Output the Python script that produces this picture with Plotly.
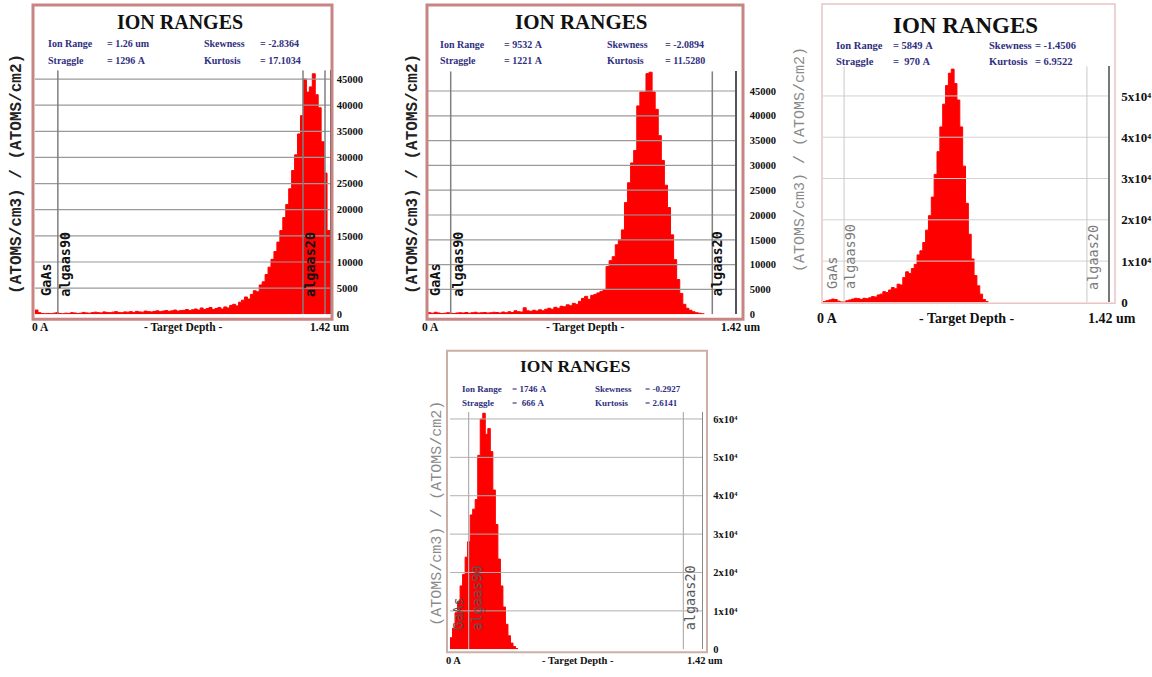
import plotly.graph_objects as go

W, H = 1152, 677
DEPTH_MAX = 14200          # target depth, Angstrom (1.42 um)
BIN = 142                  # width of one depth bin (100 bins)

# Ion distribution per depth bin, (atoms/cm3)/(atoms/cm2), starting at the surface
ions_a = [
    800, 300, 150, 100, 150, 100, 200, 300, 150, 100,
    200, 150, 300, 250, 150, 200, 350, 250, 200, 300,
    400, 300, 250, 450, 350, 300, 400, 500, 350, 300,
    450, 400, 500, 350, 550, 450, 400, 600, 500, 450,
    550, 650, 500, 600, 700, 550, 650, 800, 600, 700,
    750, 900, 700, 850, 1000, 800, 1200, 900, 1100, 1300,
    900, 1100, 1300, 1000, 1400, 1200, 1700, 1900, 1600, 2300,
    2700, 3300, 2900, 3800, 4500, 4300, 5600, 6200, 7600, 9000,
    10500, 12000, 13800, 16000, 18500, 21000, 24000, 27500, 30500, 34500,
    38000, 45000, 42500, 43500, 46000, 42000, 39500, 33000, 27000, 16000,
]
ions_b = [
    300, 200, 400, 250, 150, 200, 300, 200, 150, 250,
    300, 250, 350, 200, 300, 400, 250, 300, 350, 250,
    300, 400, 350, 250, 450, 300, 500, 350, 700, 500,
    450, 1300, 700, 600, 800, 650, 900, 700, 1000, 1200,
    1000, 1400, 1200, 1600, 1500, 1900, 1700, 2200, 2000, 2600,
    3200, 3600, 3000, 3800, 4000, 4300, 4600, 5000, 9600, 10800,
    11600, 14000, 15000, 17000, 22500, 26500, 30500, 33000, 42000, 44800,
    44800, 48500, 48800, 44800, 41300, 36000, 31000, 26000, 21500, 16000,
    11000, 7000, 4200, 2000, 1200, 800, 500, 300, 200, 100,
]
ions_c = [
    200, 400, 600, 800, 700, 300, 100, 100, 400, 600,
    800, 1000, 900, 700, 1000, 900, 1100, 1400, 1300, 1800,
    2000, 2600, 2400, 3000, 3600, 3300, 4400, 4200, 6000, 7400,
    7000, 8200, 9200, 11500, 12500, 14500, 17500, 21000, 25500, 31000,
    36500, 42500, 48000, 52500, 55500, 56500, 53000, 49000, 42500, 33000,
    24000, 16500, 10500, 6500, 4000, 2000, 700, 200,
]
ions_d = [
    3000, 5500, 9500, 12500, 16500, 19500, 24000, 28000, 35000, 36500,
    39000, 50500, 60000, 61500, 56000, 57500, 51500, 41500, 32500, 23500,
    16500, 11000, 6500, 3500, 1600, 700, 200,
]

# Header statistics (Ion Range, Straggle, Skewness, Kurtosis)
stats_a = ["= 1.26 um", "= 1296 A", "= -2.8364", "= 17.1034"]
stats_b = ["= 9532 A", "= 1221 A", "= -2.0894", "= 11.5280"]
stats_c = ["= 5849 A", "=  970 A", "= -1.4506", "= 6.9522"]
stats_d = ["= 1746 A", "=  666 A", "= -0.2927", "= 2.6141"]
stat_names = ["Ion Range", "Straggle", "Skewness", "Kurtosis"]

# Target layers and where each one begins (Angstrom)
layer_names = ["GaAs", "algaas90", "algaas20"]
layer_starts_a = [0, 1100, 12900]
layer_starts_bcd = [0, 1050, 13150]
extra_bounds_a = [13960]

ticks_lin = [0, 5000, 10000, 15000, 20000, 25000, 30000, 35000, 40000, 45000]
ticks_lin_text = ["0", "5000", "10000", "15000", "20000", "25000", "30000",
                  "35000", "40000", "45000"]
ticks_exp = [0, 10000, 20000, 30000, 40000, 50000, 60000]
ticks_exp_text = ["0", "1x10\u2074", "2x10\u2074", "3x10\u2074", "4x10\u2074",
                  "5x10\u2074", "6x10\u2074"]

x_labels = ["0 A", "- Target Depth -", "1.42 um"]
y_title = "(ATOMS/cm3) / (ATOMS/cm2)"
title_text = "ION RANGES"


def fx(p):
    return p / W


def fy(p):
    return 1 - p / H


panels = [
    dict(ions=ions_a, stats=stats_a, starts=layer_starts_a, extra=extra_bounds_a,
         box=(35, 71, 330, 318), ymax=46700, ticks=ticks_lin, ticktext=ticks_lin_text,
         frame=(33, 5, 332, 323), frame_col="#c98484", frame_w=3,
         title=(180, 22, 20), stat_rows=(44, 61), stat_cols=(46, 105, 202, 258), stat_size=10,
         ytitle=(17, 176, 16, "#222222", True),
         xlab_y=331, xlab_x=(40, 183, 329), xlab_size=11.5,
         tick_size=10.5, standoff=3,
         lay_bottom=302, lay_shift=(11, 7, 7), lay_col="#111111", lay_bold=True,
         vcol="#808080", vw=1.5, gcol="#9a9a9a", gw=1.2, acol="#555555", aw=1.5),
    dict(ions=ions_b, stats=stats_b, starts=layer_starts_bcd, extra=[],
         box=(428, 72, 735, 318), ymax=49000, ticks=ticks_lin, ticktext=ticks_lin_text,
         frame=(427, 5, 743, 323), frame_col="#c98484", frame_w=3,
         title=(581, 22, 21), stat_rows=(45, 61), stat_cols=(438, 502, 605, 663), stat_size=10,
         ytitle=(413, 176, 16, "#222222", True),
         xlab_y=331, xlab_x=(430, 585, 740), xlab_size=11.5,
         tick_size=10.5, standoff=11,
         lay_bottom=302, lay_shift=(7, 7, 5), lay_col="#111111", lay_bold=True,
         vcol="#808080", vw=1.5, gcol="#9a9a9a", gw=1.2, acol="#555555", aw=1.5),
    dict(ions=ions_c, stats=stats_c, starts=layer_starts_bcd, extra=[],
         box=(823, 67, 1108, 306), ymax=57200, ticks=ticks_exp[:6], ticktext=ticks_exp_text[:6],
         frame=(822, 4, 1115, 307), frame_col="#eac4c4", frame_w=1.5,
         title=(965, 26, 23), stat_rows=(46, 62), stat_cols=(834, 891, 987, 1033), stat_size=10.5,
         ytitle=(800, 162, 15, "#8a8a8a", False),
         xlab_y=322, xlab_x=(827, 967, 1112), xlab_size=14,
         tick_size=13, standoff=9,
         lay_bottom=295, lay_shift=(9, 6, 6), lay_col="#7a7a7a", lay_bold=False,
         vcol="#c8c8c8", vw=1, gcol="#d2d2d2", gw=1, acol="#777777", aw=1.5),
    dict(ions=ions_d, stats=stats_d, starts=layer_starts_bcd, extra=[],
         box=(450, 417, 702, 657), ymax=61800, ticks=ticks_exp, ticktext=ticks_exp_text,
         frame=(447, 355, 707, 660), frame_col="#ccb0a8", frame_w=2,
         title=(575, 370, 17.5), stat_rows=(394, 408), stat_cols=(460, 510, 593, 643), stat_size=9,
         ytitle=(438, 520, 15, "#8a8a8a", False),
         xlab_y=668, xlab_x=(453, 578, 705), xlab_size=10.5,
         tick_size=10.5, standoff=8,
         lay_bottom=640, lay_shift=(8, 8, 7), lay_col="#555555", lay_bold=False,
         vcol="#b0b0b0", vw=1.2, gcol="#b0b0b0", gw=1, acol="#888888", aw=1.2),
]

fig = go.Figure()
shapes, annotations = [], []
layout_axes = {}
SERIF = "Liberation Serif"
MONO = "Liberation Mono"
LAYER_FONT = "DejaVu Sans Mono"

for k, p in enumerate(panels, start=1):
    xa, ya = ("x%d" % k if k > 1 else "x"), ("y%d" % k if k > 1 else "y")
    xkey, ykey = ("xaxis%d" % k if k > 1 else "xaxis"), ("yaxis%d" % k if k > 1 else "yaxis")
    x0, y0, x1, y1 = p["box"]

    # histogram drawn as a filled step outline over the bin edges
    n = len(p["ions"])
    edges = [i * BIN for i in range(n + 1)]
    heights = list(p["ions"]) + [p["ions"][-1]]
    fig.add_trace(go.Scatter(x=edges, y=heights, xaxis=xa, yaxis=ya,
                             mode="lines", line=dict(shape="hv", width=1, color="#ff0000",
                                                     simplify=False),
                             fill="tozeroy", fillcolor="#ff0000",
                             hoverinfo="skip", showlegend=False))

    layout_axes[xkey] = dict(domain=[fx(x0), fx(x1)], range=[0, DEPTH_MAX], visible=False,
                             anchor=ya, fixedrange=True)
    layout_axes[ykey] = dict(domain=[fy(y1), fy(y0)], range=[0, p["ymax"]], anchor=xa,
                             side="right", showgrid=False, zeroline=False,
                             showline=True, linecolor=p["acol"], linewidth=p["aw"],
                             layer="above traces", ticks="",
                             tickvals=p["ticks"], ticktext=p["ticktext"],
                             ticklabelstandoff=p["standoff"],
                             tickfont=dict(family=SERIF, size=p["tick_size"], color="#111111",
                                           weight="bold"),
                             fixedrange=True)

    # horizontal grid lines drawn over the histogram
    for t in p["ticks"][1:]:
        shapes.append(dict(type="line", xref=xa, yref=ya, x0=0, x1=DEPTH_MAX, y0=t, y1=t,
                           line=dict(color=p["gcol"], width=p["gw"]), layer="above"))
    # layer boundaries
    for b in p["starts"][1:] + p["extra"]:
        shapes.append(dict(type="line", xref=xa, yref=ya, x0=b, x1=b, y0=0, y1=p["ymax"],
                           line=dict(color=p["vcol"], width=p["vw"]), layer="above"))
    # panel frame
    fx0, fy0, fx1, fy1 = p["frame"]
    shapes.append(dict(type="rect", xref="paper", yref="paper",
                       x0=fx(fx0), x1=fx(fx1), y0=fy(fy1), y1=fy(fy0),
                       line=dict(color=p["frame_col"], width=p["frame_w"]), layer="above"))

    # layer names
    for name, start, sh in zip(layer_names, p["starts"], p["lay_shift"]):
        txt = "<b>%s</b>" % name if p["lay_bold"] else name
        annotations.append(dict(text=txt, xref=xa, yref="paper", x=start, xshift=sh,
                                y=fy(p["lay_bottom"]), xanchor="center", yanchor="bottom",
                                textangle=-90, showarrow=False,
                                font=dict(family=LAYER_FONT, size=13.5, color=p["lay_col"])))

    # title
    tx, ty, ts = p["title"]
    annotations.append(dict(text="<b>%s</b>" % title_text, xref="paper", yref="paper",
                            x=fx(tx), y=fy(ty), xanchor="center", yanchor="middle",
                            showarrow=False, font=dict(family=SERIF, size=ts, color="#111111")))

    # statistics header
    r0, r1 = p["stat_rows"]
    c0, c1, c2, c3 = p["stat_cols"]
    cells = [(stat_names[0], c0, r0), (p["stats"][0], c1, r0),
             (stat_names[1], c0, r1), (p["stats"][1], c1, r1),
             (stat_names[2], c2, r0), (p["stats"][2], c3, r0),
             (stat_names[3], c2, r1), (p["stats"][3], c3, r1)]
    for txt, cx, cy in cells:
        annotations.append(dict(text="<b>%s</b>" % txt.replace(" ", "&nbsp;"),
                                xref="paper", yref="paper",
                                x=fx(cx), y=fy(cy), xanchor="left", yanchor="middle",
                                showarrow=False,
                                font=dict(family=SERIF, size=p["stat_size"], color="#2f2f80")))

    # vertical axis title
    yx, yy, ys, yc, yb = p["ytitle"]
    annotations.append(dict(text=("<b>%s</b>" % y_title) if yb else y_title,
                            xref="paper", yref="paper", x=fx(yx), y=fy(yy),
                            xanchor="center", yanchor="middle", textangle=-90, showarrow=False,
                            font=dict(family=MONO, size=ys, color=yc)))

    # depth axis labels
    for txt, lx in zip(x_labels, p["xlab_x"]):
        annotations.append(dict(text="<b>%s</b>" % txt, xref="paper", yref="paper",
                                x=fx(lx), y=fy(p["xlab_y"]), xanchor="center", yanchor="middle",
                                showarrow=False,
                                font=dict(family=SERIF, size=p["xlab_size"], color="#111111")))

fig.update_layout(
    width=W, height=H, margin=dict(l=0, r=0, t=0, b=0),
    paper_bgcolor="white", plot_bgcolor="white",
    showlegend=False,
    shapes=shapes, annotations=annotations,
    **layout_axes,
)

fig.write_html("out.html")
